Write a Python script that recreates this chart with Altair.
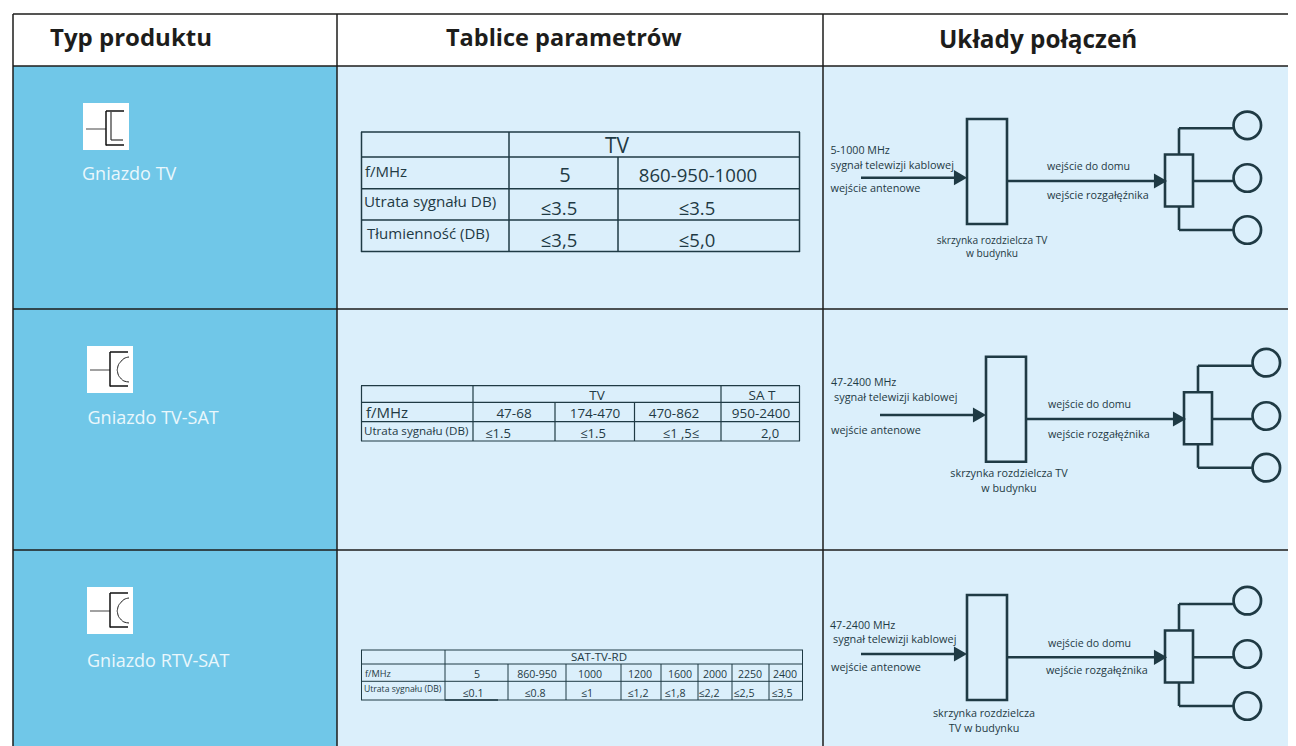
import altair as alt
import pandas as pd

# ---------- text content ----------
HEADERS = ["Typ produktu", "Tablice parametrów", "Układy połączeń"]
PRODUCTS = ["Gniazdo TV", "Gniazdo TV-SAT", "Gniazdo RTV-SAT"]
T1_LEFT = ["f/MHz", "Utrata sygnału DB)", "Tłumienność (DB)"]
T1_CELLS = ["TV", "5", "860-950-1000", "≤3.5", "≤3.5", "≤3,5", "≤5,0"]
T2_HEAD = ["TV", "SA T"]
T2_FREQ = ["47-68", "174-470", "470-862", "950-2400"]
T2_LOSS = ["≤1.5", "≤1.5", "≤1  ,5≤", "2,0"]
T3_FREQ = ["5", "860-950", "1000", "1200", "1600", "2000", "2250", "2400"]
T3_LOSS = ["≤0.1", "≤0.8", "≤1", "≤1,2", "≤1,8", "≤2,2", "≤2,5", "≤3,5"]
LOSS_DB = "Utrata sygnału (DB)"
CABLE = "sygnał telewizji kablowej"
ANT = "wejście antenowe"
HOME = "wejście do domu"
SPLIT = "wejście rozgałęźnika"

# ---------- layout ----------
W, H = 1288, 746  # the page keeps the picture to 1280 px wide, so the drawing stops at x = 1288
INK = "#1d1d1b"
TEAL = "#1f3a44"
BLUE = "#70c7e8"
PALE = "#dbeffb"
FONT = "Open Sans"
TEXT_SHIFT = 1  # Open Sans sits a little higher than the reference face

xs = alt.Scale(domain=[8, W], range=[0, W - 8], nice=False, zero=False)
ys = alt.Scale(domain=[8, H], range=[0, H - 8], nice=False, zero=False)
X = alt.X("x:Q", scale=xs, axis=None)
Y = alt.Y("y:Q", scale=ys, axis=None)
X2 = alt.X2("x2:Q")
Y2 = alt.Y2("y2:Q")


def rects(rows, **kw):
    d = pd.DataFrame(rows, columns=["x", "y", "x2", "y2"])
    return alt.Chart(d).mark_rect(**kw).encode(x=X, y=Y, x2=X2, y2=Y2)


def rules(rows, width, color):
    d = pd.DataFrame(rows, columns=["x", "y", "x2", "y2"])
    return alt.Chart(d).mark_rule(strokeWidth=width, color=color).encode(x=X, y=Y, x2=X2, y2=Y2)


def texts(rows, align="left", weight="normal", color=TEAL):
    d = pd.DataFrame(rows, columns=["x", "y", "t", "s"])
    d["y"] = d["y"] + TEXT_SHIFT
    return alt.Chart(d).mark_text(
        align=align, baseline="middle", font=FONT, fontWeight=weight, color=color
    ).encode(x=X, y=Y, text="t:N", size=alt.Size("s:Q", scale=None, legend=None))


def hv(y, x0, x1):
    return (x0, y, x1, y)


def vv(x, y0, y1):
    return (x, y0, x, y1)


layers = []

# cell backgrounds
layers.append(rects([(13, 66, 337, 746)], color=BLUE))
layers.append(rects([(337, 66, W, 746)], color=PALE))

# main grid
layers.append(rules(
    [hv(14, 13, W), hv(66, 13, W), hv(309, 13, W), hv(550, 13, W),
     vv(13, 14, 746), vv(337, 14, 746), vv(823, 14, 746)], 1.5, INK))

# headers
layers.append(texts([(50, 38, HEADERS[0], 24), (446, 38, HEADERS[1], 23.5), (939, 40, HEADERS[2], 24.3)],
                    weight="bold", color=INK))

# product labels
layers.append(texts([(82, 173.5, PRODUCTS[0], 18), (87.5, 418, PRODUCTS[1], 18), (87, 661, PRODUCTS[2], 18)],
                    color="#eaf7fc"))

# icons
layers.append(rects([(83, 103, 129, 150), (87, 346, 133, 393), (87, 587, 133, 634)], color="white"))
for ox, oy in [(0, 0), (4, 241), (4, 482)]:
    layers.append(rules([hv(129 + oy, 86 + ox, 106 + ox)], 1.1, "#555555"))
    layers.append(rules([vv(106 + ox, 111 + oy, 145.5 + oy), hv(111 + oy, 106 + ox, 124 + ox), hv(145 + oy, 106 + ox, 124 + ox)], 1.5, "#111111"))
layers.append(rules([vv(111, 112, 140), hv(140, 111, 123)], 1.2, "#333333"))
ARC_X = [129, 124, 120.5, 118, 117, 118, 120.5, 124, 129]
ARC_Y = [357, 358.5, 362, 366, 370, 374, 378, 381, 382]
for oy in [0, 241]:
    arc = pd.DataFrame({"x": ARC_X, "y": [v + oy for v in ARC_Y], "o": range(len(ARC_X))})
    layers.append(alt.Chart(arc).mark_line(strokeWidth=1, color="#222222", interpolate="monotone").encode(x=X, y=Y, order="o:Q"))

# table 1
layers.append(rules(
    [hv(132, 361, 800), hv(157, 361, 800), hv(188.7, 361, 800), hv(220, 361, 800), hv(251.5, 361, 800),
     vv(361.5, 132, 252), vv(509, 132, 252), vv(618, 157, 252), vv(799.5, 132, 252)], 1.5, TEAL))
layers.append(texts([(365, 171, T1_LEFT[0], 15), (364, 201, T1_LEFT[1], 15.2), (367, 233, T1_LEFT[2], 15)]))
layers.append(texts([(617, 146, T1_CELLS[0], 21), (565, 175, T1_CELLS[1], 20), (698, 175, T1_CELLS[2], 18.6),
                     (559, 208, T1_CELLS[3], 18.5), (697, 208, T1_CELLS[4], 18.5),
                     (559, 240, T1_CELLS[5], 18.5), (697, 240, T1_CELLS[6], 18.5)], align="center"))

# table 2
layers.append(rules(
    [hv(385.7, 361, 800), hv(402.3, 361, 800), hv(421.7, 361, 800), hv(441, 361, 800),
     vv(361.5, 385.7, 441), vv(473, 385.7, 441), vv(555, 402, 441), vv(634.5, 402, 441),
     vv(721, 385.7, 441), vv(799.5, 385.7, 441)], 1.2, TEAL))
layers.append(texts([(366, 412, T1_LEFT[0], 15), (364, 431, LOSS_DB, 11.6)]))
T2_HEAD_X = [597, 762]
T2_X = [514, 595, 674, 761]
T2_LX = [498, 593, 681, 770]
layers.append(texts(
    [(x, 395, t, 13.5) for x, t in zip(T2_HEAD_X, T2_HEAD)]
    + [(x, 413, t, 13.5) for x, t in zip(T2_X, T2_FREQ)]
    + [(x, 433, t, 13) for x, t in zip(T2_LX, T2_LOSS)], align="center"))

# table 3
layers.append(rules(
    [hv(650, 361, 803), hv(664, 361, 803), hv(681.3, 361, 803), hv(700, 361, 803),
     vv(361.5, 650, 700), vv(445, 650, 700), vv(508, 664, 700), vv(566, 664, 700), vv(621, 664, 700),
     vv(661, 664, 700), vv(698, 664, 700), vv(732, 664, 700), vv(769, 664, 700), vv(802.5, 650, 700)], 1.0, TEAL))
layers.append(rules([hv(700, 445, 498)], 1.6, TEAL))
layers.append(texts([(365, 673, T1_LEFT[0], 9.2), (364, 688, LOSS_DB, 8.6)]))
T3_X = [477, 537, 590, 640, 680, 715, 750, 785]
T3_LX = [473, 535, 587, 638, 675, 709, 744, 782]
layers.append(texts(
    [(599, 657, "SAT-TV-RD", 11.5)]
    + [(x, 674, t, 10.6) for x, t in zip(T3_X, T3_FREQ)]
    + [(x, 693, t, 10.6) for x, t in zip(T3_LX, T3_LOSS)], align="center"))

# connection diagrams: dx, dy, feed start, feed y, output y, top branch y, bottom branch y
DIAGRAMS = [
    (0, 0, 861, 177.7, 181, 128.3, 230),
    (19, 237.7, 880, 415, 419, 365.7, 467.7),
    (0, 476, 861, 654, 657.3, 604, 706),
]
CIRCLE_Y = [[125.3, 178, 230], [362.7, 416, 467.7], [600.7, 654, 706]]
for (dx, dy, fx, fy, oy, by0, by1), cy in zip(DIAGRAMS, CIRCLE_Y):
    layers.append(rules(
        [hv(fy, fx, 962 + dx), hv(oy, 1007 + dx, 1160 + dx),
         vv(1179 + dx, by0, 154.5 + dy), hv(by0, 1179 + dx, 1234 + dx),
         hv(oy, 1193 + dx, 1234 + dx),
         vv(1179 + dx, 206.5 + dy, by1), hv(by1, 1179 + dx, 1234 + dx)], 2.6, TEAL))
    layers.append(rects([(967 + dx, 119 + dy, 1007 + dx, 224 + dy), (1165 + dx, 154.5 + dy, 1193 + dx, 206.5 + dy)],
                        fill="transparent", stroke=TEAL, strokeWidth=2.6))
    circ = pd.DataFrame({"x": [1247.3 + dx] * 3, "y": cy})
    layers.append(alt.Chart(circ).mark_point(shape="circle", size=756, filled=False, color=TEAL, strokeWidth=2.7, opacity=1)
                  .encode(x=X, y=Y))
    heads = pd.DataFrame({"x": [960.5 + dx, 1160.5 + dx], "y": [fy, oy]})
    layers.append(alt.Chart(heads).mark_point(shape="triangle-right", size=230, filled=True, color=TEAL, opacity=1)
                  .encode(x=X, y=Y))

# diagram texts
layers.append(texts([
    (830.5, 150, "5-1000 MHz", 10.7), (830.5, 165, CABLE, 10.9), (830.5, 188, ANT, 10.9),
    (1047, 166, HOME, 10.6), (1047, 194.5, SPLIT, 10.8),
    (831, 382, "47-2400 MHz", 10.7), (834, 396.5, CABLE, 10.9), (831, 430, ANT, 10.9),
    (1048, 404, HOME, 10.6), (1048, 434, SPLIT, 10.8),
    (830, 625, "47-2400 MHz", 10.7), (833, 639, CABLE, 10.9), (831, 667, ANT, 10.9),
    (1048, 643, HOME, 10.6), (1046, 669.5, SPLIT, 10.8),
]))
layers.append(texts([
    (992, 239.5, "skrzynka rozdzielcza TV", 10.2), (992, 253, "w budynku", 10.2),
    (1009, 473, "skrzynka rozdzielcza TV", 10.8), (1009, 488, "w budynku", 10.8),
    (984, 713, "skrzynka rozdzielcza", 10.8), (984, 728, "TV w budynku", 10.8),
], align="center"))

chart = alt.layer(*layers).properties(
    width=W - 8, height=H - 8, padding=0, autosize=alt.AutoSizeParams(type="none"), background="white"
).configure_view(stroke=None)

chart.save("out.html", embed_options={"renderer": "svg", "actions": False})
